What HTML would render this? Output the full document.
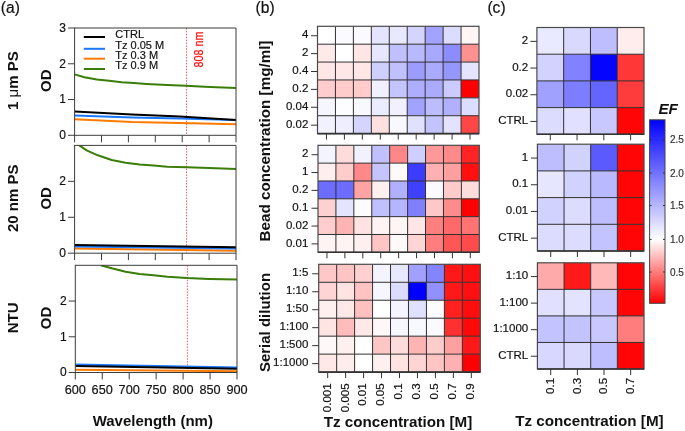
<!DOCTYPE html>
<html><head><meta charset="utf-8"><style>
html,body{margin:0;padding:0;background:#fff;width:685px;height:431px;overflow:hidden;}
svg{display:block;will-change:transform;}
text{font-family:"Liberation Sans", sans-serif;}
</style></head><body>
<svg width="685" height="431" viewBox="0 0 685 431">
<rect width="685" height="431" fill="#fff"/>
<text x="0.8" y="12.6" font-size="15.6" text-anchor="start" fill="#111" stroke="#111" stroke-width="0.18">(a)</text>
<text x="255.6" y="12.6" font-size="15.6" text-anchor="start" fill="#111" stroke="#111" stroke-width="0.18">(b)</text>
<text x="487.4" y="12.6" font-size="15.6" text-anchor="start" fill="#111" stroke="#111" stroke-width="0.18">(c)</text>
<g>
<clipPath id="cp0"><rect x="74.6" y="28.0" width="161.4" height="107.30000000000001"/></clipPath>
<g clip-path="url(#cp0)">
<line x1="186.5" y1="28.0" x2="186.5" y2="135.3" stroke="#ff5a5a" stroke-width="1" stroke-dasharray="1.5 1.4"/>
<polyline points="74.60,74.40 84.40,77.30 96.80,79.40 109.20,80.80 121.60,82.30 134.00,83.10 146.40,83.90 157.00,84.40 167.40,84.90 186.00,85.80 204.60,86.80 223.20,87.40 236.00,88.00" fill="none" stroke="#3a7d08" stroke-width="2.0" stroke-linejoin="round" stroke-linecap="butt"/>
<polyline points="74.60,119.20 132.00,121.90 180.00,122.90 236.00,124.30" fill="none" stroke="#ff7a00" stroke-width="2.0" stroke-linejoin="round" stroke-linecap="butt"/>
<polyline points="74.60,115.60 132.00,117.50 180.00,118.60 236.00,120.00" fill="none" stroke="#1a78ff" stroke-width="2.0" stroke-linejoin="round" stroke-linecap="butt"/>
<polyline points="74.60,111.60 132.00,114.50 180.00,116.60 236.00,120.00" fill="none" stroke="#000000" stroke-width="2.0" stroke-linejoin="round" stroke-linecap="butt"/>
</g>
<line x1="74.6" y1="28.0" x2="236.0" y2="28.0" stroke="#3c3c3c" stroke-width="1"/>
<line x1="236.0" y1="28.0" x2="236.0" y2="135.3" stroke="#3c3c3c" stroke-width="1"/>
<line x1="74.6" y1="27.5" x2="74.6" y2="135.8" stroke="#3c3c3c" stroke-width="1"/>
<line x1="74.6" y1="135.3" x2="236.0" y2="135.3" stroke="#3c3c3c" stroke-width="1"/>
<line x1="74.6" y1="135.3" x2="74.6" y2="142.3" stroke="#3c3c3c" stroke-width="1"/>
<line x1="101.5" y1="135.3" x2="101.5" y2="142.3" stroke="#3c3c3c" stroke-width="1"/>
<line x1="128.4" y1="135.3" x2="128.4" y2="142.3" stroke="#3c3c3c" stroke-width="1"/>
<line x1="155.3" y1="135.3" x2="155.3" y2="142.3" stroke="#3c3c3c" stroke-width="1"/>
<line x1="182.2" y1="135.3" x2="182.2" y2="142.3" stroke="#3c3c3c" stroke-width="1"/>
<line x1="209.1" y1="135.3" x2="209.1" y2="142.3" stroke="#3c3c3c" stroke-width="1"/>
<line x1="236.0" y1="135.3" x2="236.0" y2="142.3" stroke="#3c3c3c" stroke-width="1"/>
<line x1="68.0" y1="135.3" x2="74.6" y2="135.3" stroke="#3c3c3c" stroke-width="1"/>
<text x="66.0" y="139.20000000000002" font-size="12" text-anchor="end" fill="#111" stroke="#111" stroke-width="0.18">0</text>
<line x1="68.0" y1="99.53333333333333" x2="74.6" y2="99.53333333333333" stroke="#3c3c3c" stroke-width="1"/>
<text x="66.0" y="103.43333333333334" font-size="12" text-anchor="end" fill="#111" stroke="#111" stroke-width="0.18">1</text>
<line x1="68.0" y1="63.766666666666666" x2="74.6" y2="63.766666666666666" stroke="#3c3c3c" stroke-width="1"/>
<text x="66.0" y="67.66666666666667" font-size="12" text-anchor="end" fill="#111" stroke="#111" stroke-width="0.18">2</text>
<line x1="68.0" y1="28.0" x2="74.6" y2="28.0" stroke="#3c3c3c" stroke-width="1"/>
<text x="66.0" y="31.9" font-size="12" text-anchor="end" fill="#111" stroke="#111" stroke-width="0.18">3</text>
<text x="51.0" y="80.65" font-size="15" text-anchor="middle" font-weight="bold" fill="#111" transform="rotate(-90 51.0 80.65)">OD</text>
<text x="17.6" y="80.65" font-size="15" text-anchor="middle" font-weight="bold" fill="#111" transform="rotate(-90 17.6 80.65)">1 <tspan font-weight="normal">μ</tspan>m PS</text>
<clipPath id="cp1"><rect x="74.6" y="145.4" width="161.4" height="107.79999999999998"/></clipPath>
<g clip-path="url(#cp1)">
<line x1="186.5" y1="145.4" x2="186.5" y2="253.2" stroke="#ff5a5a" stroke-width="1" stroke-dasharray="1.5 1.4"/>
<polyline points="78.30,144.60 86.70,150.30 97.80,155.30 111.70,160.00 125.60,162.80 139.60,164.50 153.50,165.60 167.40,166.70 186.90,167.30 209.00,168.10 236.00,169.00" fill="none" stroke="#3a7d08" stroke-width="2.0" stroke-linejoin="round" stroke-linecap="butt"/>
<polyline points="74.60,248.60 236.00,250.80" fill="none" stroke="#ff7a00" stroke-width="2.0" stroke-linejoin="round" stroke-linecap="butt"/>
<polyline points="74.60,246.60 236.00,248.50" fill="none" stroke="#1a78ff" stroke-width="2.0" stroke-linejoin="round" stroke-linecap="butt"/>
<polyline points="74.60,245.00 236.00,247.20" fill="none" stroke="#000000" stroke-width="2.0" stroke-linejoin="round" stroke-linecap="butt"/>
</g>
<line x1="74.6" y1="145.4" x2="236.0" y2="145.4" stroke="#3c3c3c" stroke-width="1"/>
<line x1="236.0" y1="145.4" x2="236.0" y2="253.2" stroke="#3c3c3c" stroke-width="1"/>
<line x1="74.6" y1="144.9" x2="74.6" y2="253.7" stroke="#3c3c3c" stroke-width="1"/>
<line x1="74.6" y1="253.2" x2="236.0" y2="253.2" stroke="#3c3c3c" stroke-width="1"/>
<line x1="74.6" y1="253.2" x2="74.6" y2="260.2" stroke="#3c3c3c" stroke-width="1"/>
<line x1="101.5" y1="253.2" x2="101.5" y2="260.2" stroke="#3c3c3c" stroke-width="1"/>
<line x1="128.4" y1="253.2" x2="128.4" y2="260.2" stroke="#3c3c3c" stroke-width="1"/>
<line x1="155.3" y1="253.2" x2="155.3" y2="260.2" stroke="#3c3c3c" stroke-width="1"/>
<line x1="182.2" y1="253.2" x2="182.2" y2="260.2" stroke="#3c3c3c" stroke-width="1"/>
<line x1="209.1" y1="253.2" x2="209.1" y2="260.2" stroke="#3c3c3c" stroke-width="1"/>
<line x1="236.0" y1="253.2" x2="236.0" y2="260.2" stroke="#3c3c3c" stroke-width="1"/>
<line x1="68.0" y1="253.2" x2="74.6" y2="253.2" stroke="#3c3c3c" stroke-width="1"/>
<text x="66.0" y="257.09999999999997" font-size="12" text-anchor="end" fill="#111" stroke="#111" stroke-width="0.18">0</text>
<line x1="68.0" y1="217.26666666666665" x2="74.6" y2="217.26666666666665" stroke="#3c3c3c" stroke-width="1"/>
<text x="66.0" y="221.16666666666666" font-size="12" text-anchor="end" fill="#111" stroke="#111" stroke-width="0.18">1</text>
<line x1="68.0" y1="181.33333333333331" x2="74.6" y2="181.33333333333331" stroke="#3c3c3c" stroke-width="1"/>
<text x="66.0" y="185.23333333333332" font-size="12" text-anchor="end" fill="#111" stroke="#111" stroke-width="0.18">2</text>
<text x="51.0" y="198.3" font-size="15" text-anchor="middle" font-weight="bold" fill="#111" transform="rotate(-90 51.0 198.3)">OD</text>
<text x="18.3" y="198.3" font-size="15" text-anchor="middle" font-weight="bold" fill="#111" transform="rotate(-90 18.3 198.3)">20 nm PS</text>
<clipPath id="cp2"><rect x="75.3" y="265.3" width="161.7" height="107.19999999999999"/></clipPath>
<g clip-path="url(#cp2)">
<line x1="187.4" y1="265.3" x2="187.4" y2="372.5" stroke="#ff5a5a" stroke-width="1" stroke-dasharray="1.5 1.4"/>
<polyline points="100.60,265.20 111.70,268.30 125.60,271.70 139.60,273.90 153.50,275.30 167.40,276.70 186.90,278.00 209.10,278.90 237.00,279.50" fill="none" stroke="#3a7d08" stroke-width="2.0" stroke-linejoin="round" stroke-linecap="butt"/>
<polyline points="75.30,369.80 237.00,371.30" fill="none" stroke="#ff7a00" stroke-width="2.0" stroke-linejoin="round" stroke-linecap="butt"/>
<polyline points="75.30,364.60 237.00,367.40" fill="none" stroke="#1a78ff" stroke-width="2.0" stroke-linejoin="round" stroke-linecap="butt"/>
<polyline points="75.30,365.90 237.00,368.70" fill="none" stroke="#000000" stroke-width="2.0" stroke-linejoin="round" stroke-linecap="butt"/>
</g>
<line x1="75.3" y1="265.3" x2="237.0" y2="265.3" stroke="#3c3c3c" stroke-width="1"/>
<line x1="237.0" y1="265.3" x2="237.0" y2="372.5" stroke="#3c3c3c" stroke-width="1"/>
<line x1="75.3" y1="264.8" x2="75.3" y2="373.0" stroke="#3c3c3c" stroke-width="1"/>
<line x1="75.3" y1="372.5" x2="237.0" y2="372.5" stroke="#3c3c3c" stroke-width="1"/>
<line x1="75.3" y1="372.5" x2="75.3" y2="379.5" stroke="#3c3c3c" stroke-width="1"/>
<line x1="102.25" y1="372.5" x2="102.25" y2="379.5" stroke="#3c3c3c" stroke-width="1"/>
<line x1="129.2" y1="372.5" x2="129.2" y2="379.5" stroke="#3c3c3c" stroke-width="1"/>
<line x1="156.14999999999998" y1="372.5" x2="156.14999999999998" y2="379.5" stroke="#3c3c3c" stroke-width="1"/>
<line x1="183.1" y1="372.5" x2="183.1" y2="379.5" stroke="#3c3c3c" stroke-width="1"/>
<line x1="210.05" y1="372.5" x2="210.05" y2="379.5" stroke="#3c3c3c" stroke-width="1"/>
<line x1="237.0" y1="372.5" x2="237.0" y2="379.5" stroke="#3c3c3c" stroke-width="1"/>
<line x1="68.7" y1="372.5" x2="75.3" y2="372.5" stroke="#3c3c3c" stroke-width="1"/>
<text x="66.7" y="376.4" font-size="12" text-anchor="end" fill="#111" stroke="#111" stroke-width="0.18">0</text>
<line x1="68.7" y1="336.76666666666665" x2="75.3" y2="336.76666666666665" stroke="#3c3c3c" stroke-width="1"/>
<text x="66.7" y="340.66666666666663" font-size="12" text-anchor="end" fill="#111" stroke="#111" stroke-width="0.18">1</text>
<line x1="68.7" y1="301.03333333333336" x2="75.3" y2="301.03333333333336" stroke="#3c3c3c" stroke-width="1"/>
<text x="66.7" y="304.93333333333334" font-size="12" text-anchor="end" fill="#111" stroke="#111" stroke-width="0.18">2</text>
<text x="51.0" y="317.9" font-size="15" text-anchor="middle" font-weight="bold" fill="#111" transform="rotate(-90 51.0 317.9)">OD</text>
<text x="18.3" y="317.9" font-size="15" text-anchor="middle" font-weight="bold" fill="#111" transform="rotate(-90 18.3 317.9)">NTU</text>
<text x="75.3" y="394.2" font-size="12.7" text-anchor="middle" fill="#111" stroke="#111" stroke-width="0.18">600</text>
<text x="102.2" y="394.2" font-size="12.7" text-anchor="middle" fill="#111" stroke="#111" stroke-width="0.18">650</text>
<text x="129.2" y="394.2" font-size="12.7" text-anchor="middle" fill="#111" stroke="#111" stroke-width="0.18">700</text>
<text x="156.1" y="394.2" font-size="12.7" text-anchor="middle" fill="#111" stroke="#111" stroke-width="0.18">750</text>
<text x="183.1" y="394.2" font-size="12.7" text-anchor="middle" fill="#111" stroke="#111" stroke-width="0.18">800</text>
<text x="210.1" y="394.2" font-size="12.7" text-anchor="middle" fill="#111" stroke="#111" stroke-width="0.18">850</text>
<text x="237.0" y="394.2" font-size="12.7" text-anchor="middle" fill="#111" stroke="#111" stroke-width="0.18">900</text>
<text x="152.8" y="426.3" font-size="15" text-anchor="middle" font-weight="bold" fill="#111">Wavelength (nm)</text>
<line x1="83.8" y1="37.0" x2="105.0" y2="37.0" stroke="#000000" stroke-width="2"/>
<text x="115.3" y="37.9" font-size="11" text-anchor="start" fill="#111" stroke="#111" stroke-width="0.18">CTRL</text>
<line x1="83.8" y1="48.8" x2="105.0" y2="48.8" stroke="#1a78ff" stroke-width="2"/>
<text x="115.3" y="49.0" font-size="11" text-anchor="start" fill="#111" stroke="#111" stroke-width="0.18">Tz 0.05 M</text>
<line x1="83.8" y1="58.7" x2="105.0" y2="58.7" stroke="#ff7a00" stroke-width="2"/>
<text x="115.3" y="58.9" font-size="11" text-anchor="start" fill="#111" stroke="#111" stroke-width="0.18">Tz 0.3 M</text>
<line x1="83.8" y1="69.0" x2="105.0" y2="69.0" stroke="#3a7d08" stroke-width="2"/>
<text x="115.3" y="69.4" font-size="11" text-anchor="start" fill="#111" stroke="#111" stroke-width="0.18">Tz 0.9 M</text>
<text x="0" y="0" font-size="13" fill="#ff1010" stroke="#ff1010" stroke-width="0.25" transform="translate(203.1 67.6) rotate(-90) scale(0.83 1)">808 nm</text>
</g>
<g>
<rect x="317.50" y="26.30" width="17.99" height="17.93" fill="rgb(255,255,255)"/>
<rect x="335.44" y="26.30" width="17.99" height="17.93" fill="rgb(250,250,255)"/>
<rect x="353.39" y="26.30" width="17.99" height="17.93" fill="rgb(250,250,255)"/>
<rect x="371.33" y="26.30" width="17.99" height="17.93" fill="rgb(228,228,255)"/>
<rect x="389.28" y="26.30" width="17.99" height="17.93" fill="rgb(232,232,255)"/>
<rect x="407.22" y="26.30" width="17.99" height="17.93" fill="rgb(212,212,255)"/>
<rect x="425.17" y="26.30" width="17.99" height="17.93" fill="rgb(162,162,255)"/>
<rect x="443.11" y="26.30" width="17.99" height="17.93" fill="rgb(220,220,255)"/>
<rect x="461.06" y="26.30" width="17.99" height="17.93" fill="rgb(255,245,245)"/>
<rect x="317.50" y="44.18" width="17.99" height="17.93" fill="rgb(255,234,234)"/>
<rect x="335.44" y="44.18" width="17.99" height="17.93" fill="rgb(255,255,255)"/>
<rect x="353.39" y="44.18" width="17.99" height="17.93" fill="rgb(255,230,230)"/>
<rect x="371.33" y="44.18" width="17.99" height="17.93" fill="rgb(230,230,255)"/>
<rect x="389.28" y="44.18" width="17.99" height="17.93" fill="rgb(192,192,255)"/>
<rect x="407.22" y="44.18" width="17.99" height="17.93" fill="rgb(185,185,255)"/>
<rect x="425.17" y="44.18" width="17.99" height="17.93" fill="rgb(168,168,255)"/>
<rect x="443.11" y="44.18" width="17.99" height="17.93" fill="rgb(140,140,255)"/>
<rect x="461.06" y="44.18" width="17.99" height="17.93" fill="rgb(255,145,145)"/>
<rect x="317.50" y="62.07" width="17.99" height="17.93" fill="rgb(255,231,231)"/>
<rect x="335.44" y="62.07" width="17.99" height="17.93" fill="rgb(255,231,231)"/>
<rect x="353.39" y="62.07" width="17.99" height="17.93" fill="rgb(255,231,231)"/>
<rect x="371.33" y="62.07" width="17.99" height="17.93" fill="rgb(207,207,255)"/>
<rect x="389.28" y="62.07" width="17.99" height="17.93" fill="rgb(192,192,255)"/>
<rect x="407.22" y="62.07" width="17.99" height="17.93" fill="rgb(156,156,255)"/>
<rect x="425.17" y="62.07" width="17.99" height="17.93" fill="rgb(170,170,255)"/>
<rect x="443.11" y="62.07" width="17.99" height="17.93" fill="rgb(150,150,255)"/>
<rect x="461.06" y="62.07" width="17.99" height="17.93" fill="rgb(228,228,255)"/>
<rect x="317.50" y="79.95" width="17.99" height="17.93" fill="rgb(255,205,205)"/>
<rect x="335.44" y="79.95" width="17.99" height="17.93" fill="rgb(255,203,203)"/>
<rect x="353.39" y="79.95" width="17.99" height="17.93" fill="rgb(255,203,203)"/>
<rect x="371.33" y="79.95" width="17.99" height="17.93" fill="rgb(240,240,255)"/>
<rect x="389.28" y="79.95" width="17.99" height="17.93" fill="rgb(196,196,255)"/>
<rect x="407.22" y="79.95" width="17.99" height="17.93" fill="rgb(174,174,255)"/>
<rect x="425.17" y="79.95" width="17.99" height="17.93" fill="rgb(170,170,255)"/>
<rect x="443.11" y="79.95" width="17.99" height="17.93" fill="rgb(203,203,255)"/>
<rect x="461.06" y="79.95" width="17.99" height="17.93" fill="rgb(255,0,0)"/>
<rect x="317.50" y="97.83" width="17.99" height="17.93" fill="rgb(246,246,255)"/>
<rect x="335.44" y="97.83" width="17.99" height="17.93" fill="rgb(253,253,255)"/>
<rect x="353.39" y="97.83" width="17.99" height="17.93" fill="rgb(248,248,255)"/>
<rect x="371.33" y="97.83" width="17.99" height="17.93" fill="rgb(236,236,255)"/>
<rect x="389.28" y="97.83" width="17.99" height="17.93" fill="rgb(240,240,255)"/>
<rect x="407.22" y="97.83" width="17.99" height="17.93" fill="rgb(162,162,255)"/>
<rect x="425.17" y="97.83" width="17.99" height="17.93" fill="rgb(188,188,255)"/>
<rect x="443.11" y="97.83" width="17.99" height="17.93" fill="rgb(176,176,255)"/>
<rect x="461.06" y="97.83" width="17.99" height="17.93" fill="rgb(220,220,255)"/>
<rect x="317.50" y="115.72" width="17.99" height="17.93" fill="rgb(242,242,255)"/>
<rect x="335.44" y="115.72" width="17.99" height="17.93" fill="rgb(238,238,255)"/>
<rect x="353.39" y="115.72" width="17.99" height="17.93" fill="rgb(212,212,255)"/>
<rect x="371.33" y="115.72" width="17.99" height="17.93" fill="rgb(255,224,224)"/>
<rect x="389.28" y="115.72" width="17.99" height="17.93" fill="rgb(248,248,255)"/>
<rect x="407.22" y="115.72" width="17.99" height="17.93" fill="rgb(224,224,255)"/>
<rect x="425.17" y="115.72" width="17.99" height="17.93" fill="rgb(195,195,255)"/>
<rect x="443.11" y="115.72" width="17.99" height="17.93" fill="rgb(227,227,255)"/>
<rect x="461.06" y="115.72" width="17.99" height="17.93" fill="rgb(255,70,70)"/>
<line x1="335.44" y1="26.3" x2="335.44" y2="133.6" stroke="#303030" stroke-width="1"/>
<line x1="353.39" y1="26.3" x2="353.39" y2="133.6" stroke="#303030" stroke-width="1"/>
<line x1="371.33" y1="26.3" x2="371.33" y2="133.6" stroke="#303030" stroke-width="1"/>
<line x1="389.28" y1="26.3" x2="389.28" y2="133.6" stroke="#303030" stroke-width="1"/>
<line x1="407.22" y1="26.3" x2="407.22" y2="133.6" stroke="#303030" stroke-width="1"/>
<line x1="425.17" y1="26.3" x2="425.17" y2="133.6" stroke="#303030" stroke-width="1"/>
<line x1="443.11" y1="26.3" x2="443.11" y2="133.6" stroke="#303030" stroke-width="1"/>
<line x1="461.06" y1="26.3" x2="461.06" y2="133.6" stroke="#303030" stroke-width="1"/>
<line x1="317.5" y1="44.18" x2="479.0" y2="44.18" stroke="#303030" stroke-width="1"/>
<line x1="317.5" y1="62.07" x2="479.0" y2="62.07" stroke="#303030" stroke-width="1"/>
<line x1="317.5" y1="79.95" x2="479.0" y2="79.95" stroke="#303030" stroke-width="1"/>
<line x1="317.5" y1="97.83" x2="479.0" y2="97.83" stroke="#303030" stroke-width="1"/>
<line x1="317.5" y1="115.72" x2="479.0" y2="115.72" stroke="#303030" stroke-width="1"/>
<rect x="317.5" y="26.3" width="161.50" height="107.30" fill="none" stroke="#4a4a4a" stroke-width="1.2"/>
<line x1="317.5" y1="133.6" x2="479.0" y2="133.6" stroke="#333" stroke-width="1.6"/>
<line x1="326.47" y1="133.6" x2="326.47" y2="139.6" stroke="#333" stroke-width="1"/>
<line x1="344.42" y1="133.6" x2="344.42" y2="139.6" stroke="#333" stroke-width="1"/>
<line x1="362.36" y1="133.6" x2="362.36" y2="139.6" stroke="#333" stroke-width="1"/>
<line x1="380.31" y1="133.6" x2="380.31" y2="139.6" stroke="#333" stroke-width="1"/>
<line x1="398.25" y1="133.6" x2="398.25" y2="139.6" stroke="#333" stroke-width="1"/>
<line x1="416.19" y1="133.6" x2="416.19" y2="139.6" stroke="#333" stroke-width="1"/>
<line x1="434.14" y1="133.6" x2="434.14" y2="139.6" stroke="#333" stroke-width="1"/>
<line x1="452.08" y1="133.6" x2="452.08" y2="139.6" stroke="#333" stroke-width="1"/>
<line x1="470.03" y1="133.6" x2="470.03" y2="139.6" stroke="#333" stroke-width="1"/>
<line x1="311.0" y1="35.74" x2="317.5" y2="35.74" stroke="#333" stroke-width="1"/>
<text x="308.3" y="38.44" font-size="11.5" text-anchor="end" fill="#111" stroke="#111" stroke-width="0.18">4</text>
<line x1="311.0" y1="53.62" x2="317.5" y2="53.62" stroke="#333" stroke-width="1"/>
<text x="308.3" y="56.33" font-size="11.5" text-anchor="end" fill="#111" stroke="#111" stroke-width="0.18">2</text>
<line x1="311.0" y1="71.51" x2="317.5" y2="71.51" stroke="#333" stroke-width="1"/>
<text x="308.3" y="74.21" font-size="11.5" text-anchor="end" fill="#111" stroke="#111" stroke-width="0.18">0.4</text>
<line x1="311.0" y1="89.39" x2="317.5" y2="89.39" stroke="#333" stroke-width="1"/>
<text x="308.3" y="92.09" font-size="11.5" text-anchor="end" fill="#111" stroke="#111" stroke-width="0.18">0.2</text>
<line x1="311.0" y1="107.27" x2="317.5" y2="107.27" stroke="#333" stroke-width="1"/>
<text x="308.3" y="109.97" font-size="11.5" text-anchor="end" fill="#111" stroke="#111" stroke-width="0.18">0.04</text>
<line x1="311.0" y1="125.16" x2="317.5" y2="125.16" stroke="#333" stroke-width="1"/>
<text x="308.3" y="127.86" font-size="11.5" text-anchor="end" fill="#111" stroke="#111" stroke-width="0.18">0.02</text>
<rect x="318.00" y="145.30" width="17.97" height="17.88" fill="rgb(244,244,255)"/>
<rect x="335.92" y="145.30" width="17.97" height="17.88" fill="rgb(255,220,220)"/>
<rect x="353.84" y="145.30" width="17.97" height="17.88" fill="rgb(241,241,255)"/>
<rect x="371.77" y="145.30" width="17.97" height="17.88" fill="rgb(192,192,255)"/>
<rect x="389.69" y="145.30" width="17.97" height="17.88" fill="rgb(255,135,135)"/>
<rect x="407.61" y="145.30" width="17.97" height="17.88" fill="rgb(207,207,255)"/>
<rect x="425.53" y="145.30" width="17.97" height="17.88" fill="rgb(255,152,152)"/>
<rect x="443.46" y="145.30" width="17.97" height="17.88" fill="rgb(255,138,138)"/>
<rect x="461.38" y="145.30" width="17.97" height="17.88" fill="rgb(255,35,35)"/>
<rect x="318.00" y="163.13" width="17.97" height="17.88" fill="rgb(255,238,238)"/>
<rect x="335.92" y="163.13" width="17.97" height="17.88" fill="rgb(255,204,204)"/>
<rect x="353.84" y="163.13" width="17.97" height="17.88" fill="rgb(255,137,137)"/>
<rect x="371.77" y="163.13" width="17.97" height="17.88" fill="rgb(196,196,255)"/>
<rect x="389.69" y="163.13" width="17.97" height="17.88" fill="rgb(255,250,250)"/>
<rect x="407.61" y="163.13" width="17.97" height="17.88" fill="rgb(60,60,255)"/>
<rect x="425.53" y="163.13" width="17.97" height="17.88" fill="rgb(255,177,177)"/>
<rect x="443.46" y="163.13" width="17.97" height="17.88" fill="rgb(255,160,160)"/>
<rect x="461.38" y="163.13" width="17.97" height="17.88" fill="rgb(255,15,15)"/>
<rect x="318.00" y="180.97" width="17.97" height="17.88" fill="rgb(108,108,255)"/>
<rect x="335.92" y="180.97" width="17.97" height="17.88" fill="rgb(108,108,255)"/>
<rect x="353.84" y="180.97" width="17.97" height="17.88" fill="rgb(255,163,163)"/>
<rect x="371.77" y="180.97" width="17.97" height="17.88" fill="rgb(255,240,240)"/>
<rect x="389.69" y="180.97" width="17.97" height="17.88" fill="rgb(176,176,255)"/>
<rect x="407.61" y="180.97" width="17.97" height="17.88" fill="rgb(64,64,255)"/>
<rect x="425.53" y="180.97" width="17.97" height="17.88" fill="rgb(250,250,255)"/>
<rect x="443.46" y="180.97" width="17.97" height="17.88" fill="rgb(255,204,204)"/>
<rect x="461.38" y="180.97" width="17.97" height="17.88" fill="rgb(255,220,220)"/>
<rect x="318.00" y="198.80" width="17.97" height="17.88" fill="rgb(255,208,208)"/>
<rect x="335.92" y="198.80" width="17.97" height="17.88" fill="rgb(228,228,255)"/>
<rect x="353.84" y="198.80" width="17.97" height="17.88" fill="rgb(252,252,255)"/>
<rect x="371.77" y="198.80" width="17.97" height="17.88" fill="rgb(192,192,255)"/>
<rect x="389.69" y="198.80" width="17.97" height="17.88" fill="rgb(180,180,255)"/>
<rect x="407.61" y="198.80" width="17.97" height="17.88" fill="rgb(128,128,255)"/>
<rect x="425.53" y="198.80" width="17.97" height="17.88" fill="rgb(255,200,200)"/>
<rect x="443.46" y="198.80" width="17.97" height="17.88" fill="rgb(255,140,140)"/>
<rect x="461.38" y="198.80" width="17.97" height="17.88" fill="rgb(255,0,0)"/>
<rect x="318.00" y="216.63" width="17.97" height="17.88" fill="rgb(255,205,205)"/>
<rect x="335.92" y="216.63" width="17.97" height="17.88" fill="rgb(255,180,180)"/>
<rect x="353.84" y="216.63" width="17.97" height="17.88" fill="rgb(255,227,227)"/>
<rect x="371.77" y="216.63" width="17.97" height="17.88" fill="rgb(255,243,243)"/>
<rect x="389.69" y="216.63" width="17.97" height="17.88" fill="rgb(255,245,245)"/>
<rect x="407.61" y="216.63" width="17.97" height="17.88" fill="rgb(255,230,230)"/>
<rect x="425.53" y="216.63" width="17.97" height="17.88" fill="rgb(255,127,127)"/>
<rect x="443.46" y="216.63" width="17.97" height="17.88" fill="rgb(255,105,105)"/>
<rect x="461.38" y="216.63" width="17.97" height="17.88" fill="rgb(255,115,115)"/>
<rect x="318.00" y="234.47" width="17.97" height="17.88" fill="rgb(255,243,243)"/>
<rect x="335.92" y="234.47" width="17.97" height="17.88" fill="rgb(255,243,243)"/>
<rect x="353.84" y="234.47" width="17.97" height="17.88" fill="rgb(255,240,240)"/>
<rect x="371.77" y="234.47" width="17.97" height="17.88" fill="rgb(255,196,196)"/>
<rect x="389.69" y="234.47" width="17.97" height="17.88" fill="rgb(255,250,250)"/>
<rect x="407.61" y="234.47" width="17.97" height="17.88" fill="rgb(255,212,212)"/>
<rect x="425.53" y="234.47" width="17.97" height="17.88" fill="rgb(255,125,125)"/>
<rect x="443.46" y="234.47" width="17.97" height="17.88" fill="rgb(255,85,85)"/>
<rect x="461.38" y="234.47" width="17.97" height="17.88" fill="rgb(255,75,75)"/>
<line x1="335.92" y1="145.3" x2="335.92" y2="252.3" stroke="#303030" stroke-width="1"/>
<line x1="353.84" y1="145.3" x2="353.84" y2="252.3" stroke="#303030" stroke-width="1"/>
<line x1="371.77" y1="145.3" x2="371.77" y2="252.3" stroke="#303030" stroke-width="1"/>
<line x1="389.69" y1="145.3" x2="389.69" y2="252.3" stroke="#303030" stroke-width="1"/>
<line x1="407.61" y1="145.3" x2="407.61" y2="252.3" stroke="#303030" stroke-width="1"/>
<line x1="425.53" y1="145.3" x2="425.53" y2="252.3" stroke="#303030" stroke-width="1"/>
<line x1="443.46" y1="145.3" x2="443.46" y2="252.3" stroke="#303030" stroke-width="1"/>
<line x1="461.38" y1="145.3" x2="461.38" y2="252.3" stroke="#303030" stroke-width="1"/>
<line x1="318.0" y1="163.13" x2="479.3" y2="163.13" stroke="#303030" stroke-width="1"/>
<line x1="318.0" y1="180.97" x2="479.3" y2="180.97" stroke="#303030" stroke-width="1"/>
<line x1="318.0" y1="198.8" x2="479.3" y2="198.8" stroke="#303030" stroke-width="1"/>
<line x1="318.0" y1="216.63" x2="479.3" y2="216.63" stroke="#303030" stroke-width="1"/>
<line x1="318.0" y1="234.47" x2="479.3" y2="234.47" stroke="#303030" stroke-width="1"/>
<rect x="318.0" y="145.3" width="161.30" height="107.00" fill="none" stroke="#4a4a4a" stroke-width="1.2"/>
<line x1="318.0" y1="252.3" x2="479.3" y2="252.3" stroke="#333" stroke-width="1.6"/>
<line x1="326.96" y1="252.3" x2="326.96" y2="258.3" stroke="#333" stroke-width="1"/>
<line x1="344.88" y1="252.3" x2="344.88" y2="258.3" stroke="#333" stroke-width="1"/>
<line x1="362.81" y1="252.3" x2="362.81" y2="258.3" stroke="#333" stroke-width="1"/>
<line x1="380.73" y1="252.3" x2="380.73" y2="258.3" stroke="#333" stroke-width="1"/>
<line x1="398.65" y1="252.3" x2="398.65" y2="258.3" stroke="#333" stroke-width="1"/>
<line x1="416.57" y1="252.3" x2="416.57" y2="258.3" stroke="#333" stroke-width="1"/>
<line x1="434.49" y1="252.3" x2="434.49" y2="258.3" stroke="#333" stroke-width="1"/>
<line x1="452.42" y1="252.3" x2="452.42" y2="258.3" stroke="#333" stroke-width="1"/>
<line x1="470.34" y1="252.3" x2="470.34" y2="258.3" stroke="#333" stroke-width="1"/>
<line x1="311.5" y1="154.72" x2="318.0" y2="154.72" stroke="#333" stroke-width="1"/>
<text x="308.3" y="157.42" font-size="11.5" text-anchor="end" fill="#111" stroke="#111" stroke-width="0.18">2</text>
<line x1="311.5" y1="172.55" x2="318.0" y2="172.55" stroke="#333" stroke-width="1"/>
<text x="308.3" y="175.25" font-size="11.5" text-anchor="end" fill="#111" stroke="#111" stroke-width="0.18">1</text>
<line x1="311.5" y1="190.38" x2="318.0" y2="190.38" stroke="#333" stroke-width="1"/>
<text x="308.3" y="193.08" font-size="11.5" text-anchor="end" fill="#111" stroke="#111" stroke-width="0.18">0.2</text>
<line x1="311.5" y1="208.22" x2="318.0" y2="208.22" stroke="#333" stroke-width="1"/>
<text x="308.3" y="210.92" font-size="11.5" text-anchor="end" fill="#111" stroke="#111" stroke-width="0.18">0.1</text>
<line x1="311.5" y1="226.05" x2="318.0" y2="226.05" stroke="#333" stroke-width="1"/>
<text x="308.3" y="228.75" font-size="11.5" text-anchor="end" fill="#111" stroke="#111" stroke-width="0.18">0.02</text>
<line x1="311.5" y1="243.88" x2="318.0" y2="243.88" stroke="#333" stroke-width="1"/>
<text x="308.3" y="246.58" font-size="11.5" text-anchor="end" fill="#111" stroke="#111" stroke-width="0.18">0.01</text>
<rect x="318.70" y="264.30" width="18.01" height="18.02" fill="rgb(255,200,200)"/>
<rect x="336.66" y="264.30" width="18.01" height="18.02" fill="rgb(255,196,196)"/>
<rect x="354.61" y="264.30" width="18.01" height="18.02" fill="rgb(255,208,208)"/>
<rect x="372.57" y="264.30" width="18.01" height="18.02" fill="rgb(244,244,255)"/>
<rect x="390.52" y="264.30" width="18.01" height="18.02" fill="rgb(232,232,255)"/>
<rect x="408.48" y="264.30" width="18.01" height="18.02" fill="rgb(160,160,255)"/>
<rect x="426.43" y="264.30" width="18.01" height="18.02" fill="rgb(132,132,255)"/>
<rect x="444.39" y="264.30" width="18.01" height="18.02" fill="rgb(255,24,24)"/>
<rect x="462.34" y="264.30" width="18.01" height="18.02" fill="rgb(255,15,15)"/>
<rect x="318.70" y="282.27" width="18.01" height="18.02" fill="rgb(255,212,212)"/>
<rect x="336.66" y="282.27" width="18.01" height="18.02" fill="rgb(255,227,227)"/>
<rect x="354.61" y="282.27" width="18.01" height="18.02" fill="rgb(255,195,195)"/>
<rect x="372.57" y="282.27" width="18.01" height="18.02" fill="rgb(246,246,255)"/>
<rect x="390.52" y="282.27" width="18.01" height="18.02" fill="rgb(220,220,255)"/>
<rect x="408.48" y="282.27" width="18.01" height="18.02" fill="rgb(0,0,255)"/>
<rect x="426.43" y="282.27" width="18.01" height="18.02" fill="rgb(144,144,255)"/>
<rect x="444.39" y="282.27" width="18.01" height="18.02" fill="rgb(255,24,24)"/>
<rect x="462.34" y="282.27" width="18.01" height="18.02" fill="rgb(255,15,15)"/>
<rect x="318.70" y="300.23" width="18.01" height="18.02" fill="rgb(255,240,240)"/>
<rect x="336.66" y="300.23" width="18.01" height="18.02" fill="rgb(255,232,232)"/>
<rect x="354.61" y="300.23" width="18.01" height="18.02" fill="rgb(255,192,192)"/>
<rect x="372.57" y="300.23" width="18.01" height="18.02" fill="rgb(255,255,255)"/>
<rect x="390.52" y="300.23" width="18.01" height="18.02" fill="rgb(244,244,255)"/>
<rect x="408.48" y="300.23" width="18.01" height="18.02" fill="rgb(224,224,255)"/>
<rect x="426.43" y="300.23" width="18.01" height="18.02" fill="rgb(252,252,255)"/>
<rect x="444.39" y="300.23" width="18.01" height="18.02" fill="rgb(255,32,32)"/>
<rect x="462.34" y="300.23" width="18.01" height="18.02" fill="rgb(255,12,12)"/>
<rect x="318.70" y="318.20" width="18.01" height="18.02" fill="rgb(255,228,228)"/>
<rect x="336.66" y="318.20" width="18.01" height="18.02" fill="rgb(255,188,188)"/>
<rect x="354.61" y="318.20" width="18.01" height="18.02" fill="rgb(255,232,232)"/>
<rect x="372.57" y="318.20" width="18.01" height="18.02" fill="rgb(255,248,248)"/>
<rect x="390.52" y="318.20" width="18.01" height="18.02" fill="rgb(247,247,255)"/>
<rect x="408.48" y="318.20" width="18.01" height="18.02" fill="rgb(248,248,255)"/>
<rect x="426.43" y="318.20" width="18.01" height="18.02" fill="rgb(251,251,255)"/>
<rect x="444.39" y="318.20" width="18.01" height="18.02" fill="rgb(255,48,48)"/>
<rect x="462.34" y="318.20" width="18.01" height="18.02" fill="rgb(255,8,8)"/>
<rect x="318.70" y="336.17" width="18.01" height="18.02" fill="rgb(255,248,248)"/>
<rect x="336.66" y="336.17" width="18.01" height="18.02" fill="rgb(255,240,240)"/>
<rect x="354.61" y="336.17" width="18.01" height="18.02" fill="rgb(255,255,255)"/>
<rect x="372.57" y="336.17" width="18.01" height="18.02" fill="rgb(255,198,198)"/>
<rect x="390.52" y="336.17" width="18.01" height="18.02" fill="rgb(255,220,220)"/>
<rect x="408.48" y="336.17" width="18.01" height="18.02" fill="rgb(255,180,180)"/>
<rect x="426.43" y="336.17" width="18.01" height="18.02" fill="rgb(255,204,204)"/>
<rect x="444.39" y="336.17" width="18.01" height="18.02" fill="rgb(255,160,160)"/>
<rect x="462.34" y="336.17" width="18.01" height="18.02" fill="rgb(255,24,24)"/>
<rect x="318.70" y="354.13" width="18.01" height="18.02" fill="rgb(255,232,232)"/>
<rect x="336.66" y="354.13" width="18.01" height="18.02" fill="rgb(255,236,236)"/>
<rect x="354.61" y="354.13" width="18.01" height="18.02" fill="rgb(255,255,255)"/>
<rect x="372.57" y="354.13" width="18.01" height="18.02" fill="rgb(255,240,240)"/>
<rect x="390.52" y="354.13" width="18.01" height="18.02" fill="rgb(255,228,228)"/>
<rect x="408.48" y="354.13" width="18.01" height="18.02" fill="rgb(255,212,212)"/>
<rect x="426.43" y="354.13" width="18.01" height="18.02" fill="rgb(255,196,196)"/>
<rect x="444.39" y="354.13" width="18.01" height="18.02" fill="rgb(255,177,177)"/>
<rect x="462.34" y="354.13" width="18.01" height="18.02" fill="rgb(255,0,0)"/>
<line x1="336.66" y1="264.3" x2="336.66" y2="372.1" stroke="#303030" stroke-width="1"/>
<line x1="354.61" y1="264.3" x2="354.61" y2="372.1" stroke="#303030" stroke-width="1"/>
<line x1="372.57" y1="264.3" x2="372.57" y2="372.1" stroke="#303030" stroke-width="1"/>
<line x1="390.52" y1="264.3" x2="390.52" y2="372.1" stroke="#303030" stroke-width="1"/>
<line x1="408.48" y1="264.3" x2="408.48" y2="372.1" stroke="#303030" stroke-width="1"/>
<line x1="426.43" y1="264.3" x2="426.43" y2="372.1" stroke="#303030" stroke-width="1"/>
<line x1="444.39" y1="264.3" x2="444.39" y2="372.1" stroke="#303030" stroke-width="1"/>
<line x1="462.34" y1="264.3" x2="462.34" y2="372.1" stroke="#303030" stroke-width="1"/>
<line x1="318.7" y1="282.27" x2="480.3" y2="282.27" stroke="#303030" stroke-width="1"/>
<line x1="318.7" y1="300.23" x2="480.3" y2="300.23" stroke="#303030" stroke-width="1"/>
<line x1="318.7" y1="318.2" x2="480.3" y2="318.2" stroke="#303030" stroke-width="1"/>
<line x1="318.7" y1="336.17" x2="480.3" y2="336.17" stroke="#303030" stroke-width="1"/>
<line x1="318.7" y1="354.13" x2="480.3" y2="354.13" stroke="#303030" stroke-width="1"/>
<rect x="318.7" y="264.3" width="161.60" height="107.80" fill="none" stroke="#4a4a4a" stroke-width="1.2"/>
<line x1="318.7" y1="372.1" x2="480.3" y2="372.1" stroke="#333" stroke-width="1.6"/>
<line x1="327.68" y1="372.1" x2="327.68" y2="378.1" stroke="#333" stroke-width="1"/>
<line x1="345.63" y1="372.1" x2="345.63" y2="378.1" stroke="#333" stroke-width="1"/>
<line x1="363.59" y1="372.1" x2="363.59" y2="378.1" stroke="#333" stroke-width="1"/>
<line x1="381.54" y1="372.1" x2="381.54" y2="378.1" stroke="#333" stroke-width="1"/>
<line x1="399.5" y1="372.1" x2="399.5" y2="378.1" stroke="#333" stroke-width="1"/>
<line x1="417.46" y1="372.1" x2="417.46" y2="378.1" stroke="#333" stroke-width="1"/>
<line x1="435.41" y1="372.1" x2="435.41" y2="378.1" stroke="#333" stroke-width="1"/>
<line x1="453.37" y1="372.1" x2="453.37" y2="378.1" stroke="#333" stroke-width="1"/>
<line x1="471.32" y1="372.1" x2="471.32" y2="378.1" stroke="#333" stroke-width="1"/>
<line x1="312.2" y1="273.78" x2="318.7" y2="273.78" stroke="#333" stroke-width="1"/>
<text x="308.3" y="276.48" font-size="11.5" text-anchor="end" fill="#111" stroke="#111" stroke-width="0.18">1:5</text>
<line x1="312.2" y1="291.75" x2="318.7" y2="291.75" stroke="#333" stroke-width="1"/>
<text x="308.3" y="294.45" font-size="11.5" text-anchor="end" fill="#111" stroke="#111" stroke-width="0.18">1:10</text>
<line x1="312.2" y1="309.72" x2="318.7" y2="309.72" stroke="#333" stroke-width="1"/>
<text x="308.3" y="312.42" font-size="11.5" text-anchor="end" fill="#111" stroke="#111" stroke-width="0.18">1:50</text>
<line x1="312.2" y1="327.68" x2="318.7" y2="327.68" stroke="#333" stroke-width="1"/>
<text x="308.3" y="330.38" font-size="11.5" text-anchor="end" fill="#111" stroke="#111" stroke-width="0.18">1:100</text>
<line x1="312.2" y1="345.65" x2="318.7" y2="345.65" stroke="#333" stroke-width="1"/>
<text x="308.3" y="348.35" font-size="11.5" text-anchor="end" fill="#111" stroke="#111" stroke-width="0.18">1:500</text>
<line x1="312.2" y1="363.62" x2="318.7" y2="363.62" stroke="#333" stroke-width="1"/>
<text x="308.3" y="366.32" font-size="11.5" text-anchor="end" fill="#111" stroke="#111" stroke-width="0.18">1:1000</text>
<text x="330.58" y="383.4" font-size="11.5" text-anchor="end" fill="#111" stroke="#111" stroke-width="0.18" transform="rotate(-90 330.58 383.4)">0.001</text>
<text x="348.53" y="383.4" font-size="11.5" text-anchor="end" fill="#111" stroke="#111" stroke-width="0.18" transform="rotate(-90 348.53 383.4)">0.005</text>
<text x="366.49" y="383.4" font-size="11.5" text-anchor="end" fill="#111" stroke="#111" stroke-width="0.18" transform="rotate(-90 366.49 383.4)">0.01</text>
<text x="384.44" y="383.4" font-size="11.5" text-anchor="end" fill="#111" stroke="#111" stroke-width="0.18" transform="rotate(-90 384.44 383.4)">0.05</text>
<text x="402.4" y="383.4" font-size="11.5" text-anchor="end" fill="#111" stroke="#111" stroke-width="0.18" transform="rotate(-90 402.4 383.4)">0.1</text>
<text x="420.36" y="383.4" font-size="11.5" text-anchor="end" fill="#111" stroke="#111" stroke-width="0.18" transform="rotate(-90 420.36 383.4)">0.3</text>
<text x="438.31" y="383.4" font-size="11.5" text-anchor="end" fill="#111" stroke="#111" stroke-width="0.18" transform="rotate(-90 438.31 383.4)">0.5</text>
<text x="456.27" y="383.4" font-size="11.5" text-anchor="end" fill="#111" stroke="#111" stroke-width="0.18" transform="rotate(-90 456.27 383.4)">0.7</text>
<text x="474.22" y="383.4" font-size="11.5" text-anchor="end" fill="#111" stroke="#111" stroke-width="0.18" transform="rotate(-90 474.22 383.4)">0.9</text>
<text x="398.0" y="426.5" font-size="15.2" text-anchor="middle" font-weight="bold" fill="#111">Tz concentration [M]</text>
<text x="269.5" y="141.0" font-size="15.2" text-anchor="middle" font-weight="bold" fill="#111" transform="rotate(-90 269.5 141.0)">Bead concentration [mg/ml]</text>
<text x="270.0" y="322.5" font-size="15" text-anchor="middle" font-weight="bold" fill="#111" transform="rotate(-90 270.0 322.5)">Serial dilution</text>
<rect x="536.90" y="27.50" width="26.83" height="26.75" fill="rgb(233,233,255)"/>
<rect x="563.67" y="27.50" width="26.83" height="26.75" fill="rgb(217,217,255)"/>
<rect x="590.45" y="27.50" width="26.83" height="26.75" fill="rgb(190,190,255)"/>
<rect x="617.23" y="27.50" width="26.83" height="26.75" fill="rgb(255,237,237)"/>
<rect x="536.90" y="54.20" width="26.83" height="26.75" fill="rgb(210,210,255)"/>
<rect x="563.67" y="54.20" width="26.83" height="26.75" fill="rgb(130,130,255)"/>
<rect x="590.45" y="54.20" width="26.83" height="26.75" fill="rgb(5,5,255)"/>
<rect x="617.23" y="54.20" width="26.83" height="26.75" fill="rgb(255,55,55)"/>
<rect x="536.90" y="80.90" width="26.83" height="26.75" fill="rgb(160,160,255)"/>
<rect x="563.67" y="80.90" width="26.83" height="26.75" fill="rgb(125,125,255)"/>
<rect x="590.45" y="80.90" width="26.83" height="26.75" fill="rgb(100,100,255)"/>
<rect x="617.23" y="80.90" width="26.83" height="26.75" fill="rgb(255,60,60)"/>
<rect x="536.90" y="107.60" width="26.83" height="26.75" fill="rgb(220,220,255)"/>
<rect x="563.67" y="107.60" width="26.83" height="26.75" fill="rgb(225,225,255)"/>
<rect x="590.45" y="107.60" width="26.83" height="26.75" fill="rgb(200,200,255)"/>
<rect x="617.23" y="107.60" width="26.83" height="26.75" fill="rgb(255,5,5)"/>
<line x1="563.67" y1="27.5" x2="563.67" y2="134.3" stroke="#303030" stroke-width="1"/>
<line x1="590.45" y1="27.5" x2="590.45" y2="134.3" stroke="#303030" stroke-width="1"/>
<line x1="617.23" y1="27.5" x2="617.23" y2="134.3" stroke="#303030" stroke-width="1"/>
<line x1="536.9" y1="54.2" x2="644.0" y2="54.2" stroke="#303030" stroke-width="1"/>
<line x1="536.9" y1="80.9" x2="644.0" y2="80.9" stroke="#303030" stroke-width="1"/>
<line x1="536.9" y1="107.6" x2="644.0" y2="107.6" stroke="#303030" stroke-width="1"/>
<rect x="536.9" y="27.5" width="107.10" height="106.80" fill="none" stroke="#4a4a4a" stroke-width="1.2"/>
<line x1="536.9" y1="134.3" x2="644.0" y2="134.3" stroke="#333" stroke-width="1.6"/>
<line x1="550.29" y1="134.3" x2="550.29" y2="140.3" stroke="#333" stroke-width="1"/>
<line x1="577.06" y1="134.3" x2="577.06" y2="140.3" stroke="#333" stroke-width="1"/>
<line x1="603.84" y1="134.3" x2="603.84" y2="140.3" stroke="#333" stroke-width="1"/>
<line x1="630.61" y1="134.3" x2="630.61" y2="140.3" stroke="#333" stroke-width="1"/>
<line x1="530.4" y1="41.35" x2="536.9" y2="41.35" stroke="#333" stroke-width="1"/>
<text x="528.2" y="44.05" font-size="11.5" text-anchor="end" fill="#111" stroke="#111" stroke-width="0.18">2</text>
<line x1="530.4" y1="68.05" x2="536.9" y2="68.05" stroke="#333" stroke-width="1"/>
<text x="528.2" y="70.75" font-size="11.5" text-anchor="end" fill="#111" stroke="#111" stroke-width="0.18">0.2</text>
<line x1="530.4" y1="94.75" x2="536.9" y2="94.75" stroke="#333" stroke-width="1"/>
<text x="528.2" y="97.45" font-size="11.5" text-anchor="end" fill="#111" stroke="#111" stroke-width="0.18">0.02</text>
<line x1="530.4" y1="121.45" x2="536.9" y2="121.45" stroke="#333" stroke-width="1"/>
<text x="528.2" y="124.15" font-size="11.5" text-anchor="end" fill="#111" stroke="#111" stroke-width="0.18">CTRL</text>
<rect x="537.40" y="144.20" width="26.70" height="26.75" fill="rgb(190,190,255)"/>
<rect x="564.05" y="144.20" width="26.70" height="26.75" fill="rgb(210,210,255)"/>
<rect x="590.70" y="144.20" width="26.70" height="26.75" fill="rgb(90,90,255)"/>
<rect x="617.35" y="144.20" width="26.70" height="26.75" fill="rgb(255,5,5)"/>
<rect x="537.40" y="170.90" width="26.70" height="26.75" fill="rgb(230,230,255)"/>
<rect x="564.05" y="170.90" width="26.70" height="26.75" fill="rgb(210,210,255)"/>
<rect x="590.70" y="170.90" width="26.70" height="26.75" fill="rgb(185,185,255)"/>
<rect x="617.35" y="170.90" width="26.70" height="26.75" fill="rgb(255,5,5)"/>
<rect x="537.40" y="197.60" width="26.70" height="26.75" fill="rgb(210,210,255)"/>
<rect x="564.05" y="197.60" width="26.70" height="26.75" fill="rgb(220,220,255)"/>
<rect x="590.70" y="197.60" width="26.70" height="26.75" fill="rgb(190,190,255)"/>
<rect x="617.35" y="197.60" width="26.70" height="26.75" fill="rgb(255,5,5)"/>
<rect x="537.40" y="224.30" width="26.70" height="26.75" fill="rgb(220,220,255)"/>
<rect x="564.05" y="224.30" width="26.70" height="26.75" fill="rgb(220,220,255)"/>
<rect x="590.70" y="224.30" width="26.70" height="26.75" fill="rgb(195,195,255)"/>
<rect x="617.35" y="224.30" width="26.70" height="26.75" fill="rgb(255,5,5)"/>
<line x1="564.05" y1="144.2" x2="564.05" y2="251.0" stroke="#303030" stroke-width="1"/>
<line x1="590.7" y1="144.2" x2="590.7" y2="251.0" stroke="#303030" stroke-width="1"/>
<line x1="617.35" y1="144.2" x2="617.35" y2="251.0" stroke="#303030" stroke-width="1"/>
<line x1="537.4" y1="170.9" x2="644.0" y2="170.9" stroke="#303030" stroke-width="1"/>
<line x1="537.4" y1="197.6" x2="644.0" y2="197.6" stroke="#303030" stroke-width="1"/>
<line x1="537.4" y1="224.3" x2="644.0" y2="224.3" stroke="#303030" stroke-width="1"/>
<rect x="537.4" y="144.2" width="106.60" height="106.80" fill="none" stroke="#4a4a4a" stroke-width="1.2"/>
<line x1="537.4" y1="251.0" x2="644.0" y2="251.0" stroke="#333" stroke-width="1.6"/>
<line x1="550.73" y1="251.0" x2="550.73" y2="257.0" stroke="#333" stroke-width="1"/>
<line x1="577.38" y1="251.0" x2="577.38" y2="257.0" stroke="#333" stroke-width="1"/>
<line x1="604.02" y1="251.0" x2="604.02" y2="257.0" stroke="#333" stroke-width="1"/>
<line x1="630.67" y1="251.0" x2="630.67" y2="257.0" stroke="#333" stroke-width="1"/>
<line x1="530.9" y1="158.05" x2="537.4" y2="158.05" stroke="#333" stroke-width="1"/>
<text x="528.2" y="160.75" font-size="11.5" text-anchor="end" fill="#111" stroke="#111" stroke-width="0.18">1</text>
<line x1="530.9" y1="184.75" x2="537.4" y2="184.75" stroke="#333" stroke-width="1"/>
<text x="528.2" y="187.45" font-size="11.5" text-anchor="end" fill="#111" stroke="#111" stroke-width="0.18">0.1</text>
<line x1="530.9" y1="211.45" x2="537.4" y2="211.45" stroke="#333" stroke-width="1"/>
<text x="528.2" y="214.15" font-size="11.5" text-anchor="end" fill="#111" stroke="#111" stroke-width="0.18">0.01</text>
<line x1="530.9" y1="238.15" x2="537.4" y2="238.15" stroke="#333" stroke-width="1"/>
<text x="528.2" y="240.85" font-size="11.5" text-anchor="end" fill="#111" stroke="#111" stroke-width="0.18">CTRL</text>
<rect x="537.40" y="262.80" width="26.70" height="26.60" fill="rgb(255,170,170)"/>
<rect x="564.05" y="262.80" width="26.70" height="26.60" fill="rgb(255,25,25)"/>
<rect x="590.70" y="262.80" width="26.70" height="26.60" fill="rgb(255,185,185)"/>
<rect x="617.35" y="262.80" width="26.70" height="26.60" fill="rgb(255,5,5)"/>
<rect x="537.40" y="289.35" width="26.70" height="26.60" fill="rgb(225,225,255)"/>
<rect x="564.05" y="289.35" width="26.70" height="26.60" fill="rgb(227,227,255)"/>
<rect x="590.70" y="289.35" width="26.70" height="26.60" fill="rgb(200,200,255)"/>
<rect x="617.35" y="289.35" width="26.70" height="26.60" fill="rgb(255,5,5)"/>
<rect x="537.40" y="315.90" width="26.70" height="26.60" fill="rgb(195,195,255)"/>
<rect x="564.05" y="315.90" width="26.70" height="26.60" fill="rgb(195,195,255)"/>
<rect x="590.70" y="315.90" width="26.70" height="26.60" fill="rgb(200,200,255)"/>
<rect x="617.35" y="315.90" width="26.70" height="26.60" fill="rgb(255,125,125)"/>
<rect x="537.40" y="342.45" width="26.70" height="26.60" fill="rgb(215,215,255)"/>
<rect x="564.05" y="342.45" width="26.70" height="26.60" fill="rgb(217,217,255)"/>
<rect x="590.70" y="342.45" width="26.70" height="26.60" fill="rgb(190,190,255)"/>
<rect x="617.35" y="342.45" width="26.70" height="26.60" fill="rgb(255,5,5)"/>
<line x1="564.05" y1="262.8" x2="564.05" y2="369.0" stroke="#303030" stroke-width="1"/>
<line x1="590.7" y1="262.8" x2="590.7" y2="369.0" stroke="#303030" stroke-width="1"/>
<line x1="617.35" y1="262.8" x2="617.35" y2="369.0" stroke="#303030" stroke-width="1"/>
<line x1="537.4" y1="289.35" x2="644.0" y2="289.35" stroke="#303030" stroke-width="1"/>
<line x1="537.4" y1="315.9" x2="644.0" y2="315.9" stroke="#303030" stroke-width="1"/>
<line x1="537.4" y1="342.45" x2="644.0" y2="342.45" stroke="#303030" stroke-width="1"/>
<rect x="537.4" y="262.8" width="106.60" height="106.20" fill="none" stroke="#4a4a4a" stroke-width="1.2"/>
<line x1="537.4" y1="369.0" x2="644.0" y2="369.0" stroke="#333" stroke-width="1.6"/>
<line x1="550.73" y1="369.0" x2="550.73" y2="375.0" stroke="#333" stroke-width="1"/>
<line x1="577.38" y1="369.0" x2="577.38" y2="375.0" stroke="#333" stroke-width="1"/>
<line x1="604.02" y1="369.0" x2="604.02" y2="375.0" stroke="#333" stroke-width="1"/>
<line x1="630.67" y1="369.0" x2="630.67" y2="375.0" stroke="#333" stroke-width="1"/>
<line x1="530.9" y1="276.57" x2="537.4" y2="276.57" stroke="#333" stroke-width="1"/>
<text x="528.2" y="279.27" font-size="11.5" text-anchor="end" fill="#111" stroke="#111" stroke-width="0.18">1:10</text>
<line x1="530.9" y1="303.12" x2="537.4" y2="303.12" stroke="#333" stroke-width="1"/>
<text x="528.2" y="305.82" font-size="11.5" text-anchor="end" fill="#111" stroke="#111" stroke-width="0.18">1:100</text>
<line x1="530.9" y1="329.68" x2="537.4" y2="329.68" stroke="#333" stroke-width="1"/>
<text x="528.2" y="332.38" font-size="11.5" text-anchor="end" fill="#111" stroke="#111" stroke-width="0.18">1:1000</text>
<line x1="530.9" y1="356.23" x2="537.4" y2="356.23" stroke="#333" stroke-width="1"/>
<text x="528.2" y="358.93" font-size="11.5" text-anchor="end" fill="#111" stroke="#111" stroke-width="0.18">CTRL</text>
<text x="554.02" y="377.9" font-size="11.5" text-anchor="end" fill="#111" stroke="#111" stroke-width="0.18" transform="rotate(-90 554.02 377.9)">0.1</text>
<text x="580.67" y="377.9" font-size="11.5" text-anchor="end" fill="#111" stroke="#111" stroke-width="0.18" transform="rotate(-90 580.67 377.9)">0.3</text>
<text x="607.32" y="377.9" font-size="11.5" text-anchor="end" fill="#111" stroke="#111" stroke-width="0.18" transform="rotate(-90 607.32 377.9)">0.5</text>
<text x="633.97" y="377.9" font-size="11.5" text-anchor="end" fill="#111" stroke="#111" stroke-width="0.18" transform="rotate(-90 633.97 377.9)">0.7</text>
<text x="589.4" y="426.4" font-size="15.2" text-anchor="middle" font-weight="bold" fill="#111">Tz concentration [M]</text>
</g>
<defs><linearGradient id="cb" x1="0" y1="0" x2="0" y2="1"><stop offset="0" stop-color="#0000ff"/><stop offset="0.652" stop-color="#ffffff"/><stop offset="1" stop-color="#ff0000"/></linearGradient></defs>
<rect x="649.6" y="119.8" width="15.40" height="183.50" fill="url(#cb)" stroke="#444" stroke-width="1"/>
<line x1="649.6" y1="139.7" x2="651.6" y2="139.7" stroke="#333" stroke-width="1"/>
<line x1="663.0" y1="139.7" x2="665.0" y2="139.7" stroke="#333" stroke-width="1"/>
<text x="670.0" y="143.2" font-size="10" text-anchor="start" fill="#333" stroke="#333" stroke-width="0.18">2.5</text>
<line x1="649.6" y1="173.0" x2="651.6" y2="173.0" stroke="#333" stroke-width="1"/>
<line x1="663.0" y1="173.0" x2="665.0" y2="173.0" stroke="#333" stroke-width="1"/>
<text x="670.0" y="176.5" font-size="10" text-anchor="start" fill="#333" stroke="#333" stroke-width="0.18">2.0</text>
<line x1="649.6" y1="205.5" x2="651.6" y2="205.5" stroke="#333" stroke-width="1"/>
<line x1="663.0" y1="205.5" x2="665.0" y2="205.5" stroke="#333" stroke-width="1"/>
<text x="670.0" y="209.0" font-size="10" text-anchor="start" fill="#333" stroke="#333" stroke-width="0.18">1.5</text>
<line x1="649.6" y1="239.4" x2="651.6" y2="239.4" stroke="#333" stroke-width="1"/>
<line x1="663.0" y1="239.4" x2="665.0" y2="239.4" stroke="#333" stroke-width="1"/>
<text x="670.0" y="242.9" font-size="10" text-anchor="start" fill="#333" stroke="#333" stroke-width="0.18">1.0</text>
<line x1="649.6" y1="272.0" x2="651.6" y2="272.0" stroke="#333" stroke-width="1"/>
<line x1="663.0" y1="272.0" x2="665.0" y2="272.0" stroke="#333" stroke-width="1"/>
<text x="670.0" y="275.5" font-size="10" text-anchor="start" fill="#333" stroke="#333" stroke-width="0.18">0.5</text>
<text x="658.4" y="113.9" font-size="15.3" text-anchor="start" font-weight="bold" font-style="italic" fill="#111">EF</text>
</svg>
</body></html>
